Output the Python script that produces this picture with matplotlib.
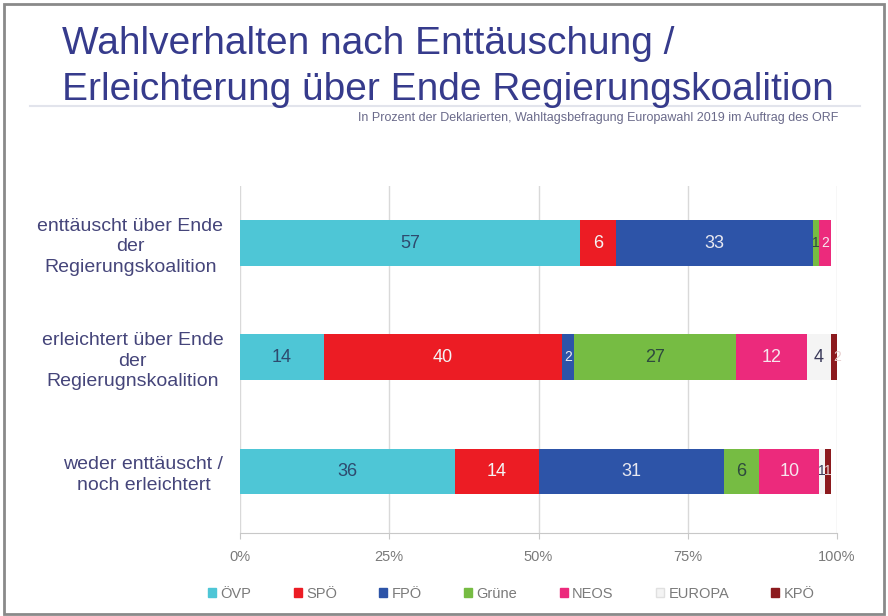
import matplotlib
matplotlib.use("Agg")
import matplotlib.pyplot as plt
from matplotlib.patches import Patch, Rectangle
from matplotlib.lines import Line2D

plt.rcParams["font.family"] = ["Liberation Sans", "DejaVu Sans"]

# ---------------------------
# Data
# ---------------------------
categories = [
    "enttäuscht über Ende\nder\nRegierungskoalition",
    "erleichtert über Ende\nder\nRegierugnskoalition",
    "weder enttäuscht /\nnoch erleichtert",
]
parties = ["ÖVP", "SPÖ", "FPÖ", "Grüne", "NEOS", "EUROPA", "KPÖ"]
oevp = [57, 14, 36]
spoe = [6, 40, 14]
fpoe = [33, 2, 31]
gruene = [1, 27, 6]
neos = [2, 12, 10]
europa = [0, 4, 1]
kpoe = [0, 2, 1]
series = [oevp, spoe, fpoe, gruene, neos, europa, kpoe]

colors = ["#4ec6d6", "#ec1c24", "#2d54a8", "#76bc43", "#ec2a7c", "#f4f4f4", "#8c1a1e"]
label_colors = ["#2e4a6e", "#f4f4f4", "#e8e8f0", "#2e4a3e", "#f6e6ee", "#3a3a5a", "#e8d0d0"]

fig = plt.figure(figsize=(8.88, 6.16), dpi=100)
ax = fig.add_axes([0.2703, 0.1347, 0.6723, 0.5633])

ypos = list(range(len(categories)))
left = [0, 0, 0]
for vals, col, lc in zip(series, colors, label_colors):
    ax.barh(ypos, vals, left=left, height=0.4, color=col, zorder=3)
    for y, v, l in zip(ypos, vals, left):
        if v > 0:
            fs = 13 if v >= 3 else 10
            ax.text(l + v / 2, y, str(v), ha="center", va="center",
                    fontsize=fs, color=lc, zorder=4)
    left = [a + b for a, b in zip(left, vals)]

ax.set_xlim(0, 100)
ax.set_ylim(2.54, -0.5)
ax.set_xticks([0, 25, 50, 75, 100])
ax.set_xticklabels(["0%", "25%", "50%", "75%", "100%"], fontsize=10.5, color="#7a7a7a")
ax.set_yticks(ypos)
ax.set_yticklabels(categories, fontsize=14, color="#45457a",
                   multialignment="center", linespacing=1.27)
ax.tick_params(axis="y", length=0, pad=12)
ax.tick_params(axis="x", length=4, color="#c8c8c8", pad=8)
ax.grid(axis="x", color="#d9d9d9", linewidth=1, zorder=0)
for s in ["top", "right", "left"]:
    ax.spines[s].set_visible(False)
ax.spines["bottom"].set_color("#c8c8c8")

# title and subtitle
title_color = "#363b8c"
fig.text(62 / 888, 1 - 54 / 616, "Wahlverhalten nach Enttäuschung /",
         fontsize=28, color=title_color, va="baseline")
fig.text(62 / 888, 1 - 100 / 616, "Erleichterung über Ende Regierungskoalition",
         fontsize=28, color=title_color, va="baseline")
fig.add_artist(Line2D([30 / 888, 860 / 888], [1 - 106 / 616, 1 - 106 / 616],
                      color="#e2e4ec", linewidth=1.5))
fig.text(838 / 888, 1 - 118 / 616,
         "In Prozent der Deklarierten, Wahltagsbefragung Europawahl 2019 im Auftrag des ORF",
         fontsize=9, color="#6a6a8a", ha="right", va="center")

# legend
handles = [Patch(facecolor=c, edgecolor="#e0e0e0" if c == "#f4f4f4" else c) for c in colors]
fig.legend(handles, parties, loc="center", bbox_to_anchor=(0.576, 1 - 594 / 616),
           ncol=7, frameon=False, fontsize=10.5, labelcolor="#7a7a7a",
           handlelength=0.55, handleheight=0.55, handletextpad=0.3, columnspacing=2.9)

# frame around the slide
fig.add_artist(Rectangle((0.004, 0.004), 0.992, 0.99, transform=fig.transFigure,
                         fill=False, edgecolor="#8a8a8a", linewidth=2))

fig.savefig("out.png", dpi=100)
